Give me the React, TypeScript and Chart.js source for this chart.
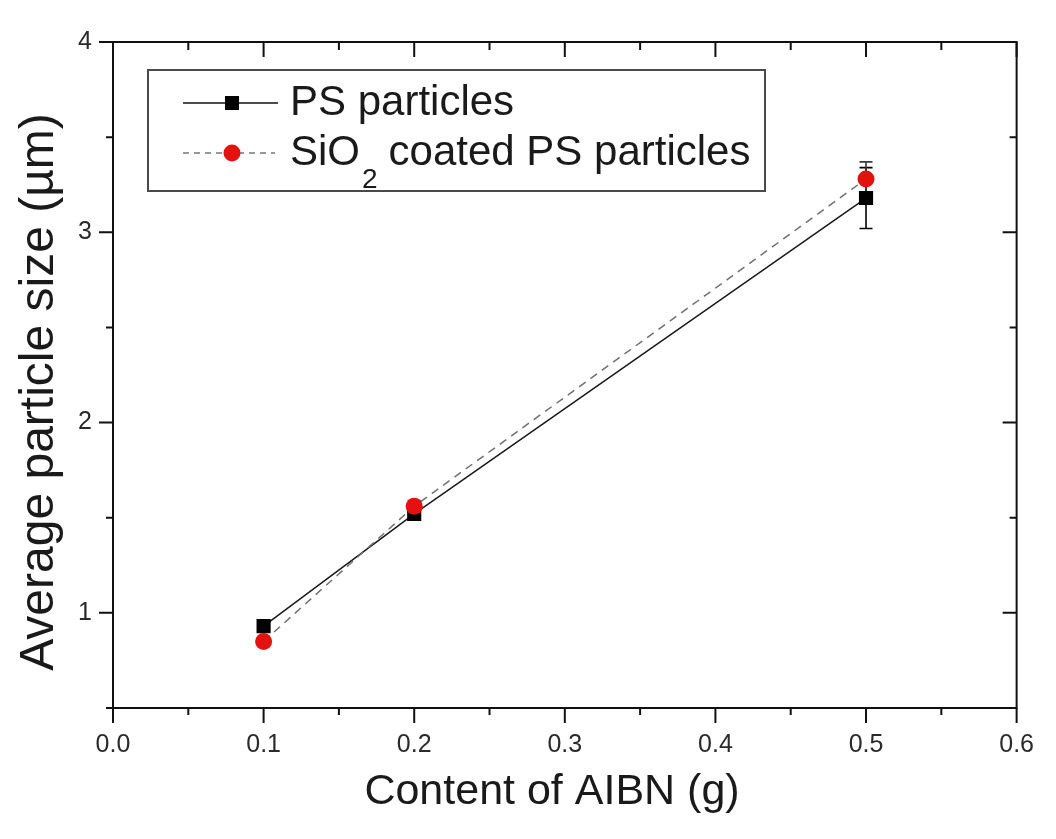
import React, { useEffect, useRef } from 'react';
import { Chart, registerables } from 'chart.js';

Chart.register(...registerables);

// ---- data ----
const contentAIBN = [0.1, 0.2, 0.5];
const psSize = [0.93, 1.52, 3.18];
const psError = [0.02, 0.03, 0.16];
const sio2Size = [0.85, 1.56, 3.28];
const sio2Error = [0.02, 0.03, 0.09];

const xTickValues = [0, 0.1, 0.2, 0.3, 0.4, 0.5, 0.6];
const xTickLabels = ['0.0', '0.1', '0.2', '0.3', '0.4', '0.5', '0.6'];
const xMinorTicks = [0.05, 0.15, 0.25, 0.35, 0.45, 0.55];
const yTickValues = [1, 2, 3, 4];
const yTickLabels = ['1', '2', '3', '4'];
const yMinorTicks = [0.5, 1.5, 2.5, 3.5];

const seriesNames = ['PS particles', 'coated PS particles'];
const xTitle = 'Content of AIBN (g)';
const yTitle = 'Average particle size (\u00b5m)';

const FONT = '"Liberation Sans", Arial, sans-serif';
const TEXT = '#1a1a1a';
const TICKTEXT = '#2a2a2a';
const AXIS = '#111111';
const RED = '#e3120f';

const framePlugin = {
  id: 'framePlugin',
  beforeDatasetsDraw(chart: any) {
    const { ctx, scales } = chart;
    const x = scales.x;
    const y = scales.y;
    const drawErr = (ys: number[], es: number[], color: string) => {
      ctx.save();
      ctx.strokeStyle = color;
      ctx.lineWidth = 1.6;
      contentAIBN.forEach((xv, i) => {
        const px = x.getPixelForValue(xv);
        const t = y.getPixelForValue(ys[i] + es[i]);
        const b = y.getPixelForValue(ys[i] - es[i]);
        ctx.beginPath();
        ctx.moveTo(px, t);
        ctx.lineTo(px, b);
        ctx.moveTo(px - 6.5, t);
        ctx.lineTo(px + 6.5, t);
        ctx.moveTo(px - 6.5, b);
        ctx.lineTo(px + 6.5, b);
        ctx.stroke();
      });
      ctx.restore();
    };
    drawErr(psSize, psError, '#000000');
    drawErr(sio2Size, sio2Error, '#3a3a3a');
  },
  afterDraw(chart: any) {
    const { ctx, chartArea: a, scales } = chart;
    const x = scales.x;
    const y = scales.y;
    ctx.save();
    ctx.strokeStyle = AXIS;
    ctx.lineWidth = 2;
    ctx.strokeRect(a.left, a.top, a.right - a.left, a.bottom - a.top);
    ctx.beginPath();
    xTickValues.forEach((v) => {
      const px = x.getPixelForValue(v);
      ctx.moveTo(px, a.bottom);
      ctx.lineTo(px, a.bottom + 15);
      ctx.moveTo(px, a.top);
      ctx.lineTo(px, a.top + 15);
    });
    xMinorTicks.forEach((v) => {
      const px = x.getPixelForValue(v);
      ctx.moveTo(px, a.bottom);
      ctx.lineTo(px, a.bottom + 7);
      ctx.moveTo(px, a.top);
      ctx.lineTo(px, a.top + 8);
    });
    yTickValues.forEach((v) => {
      const py = y.getPixelForValue(v);
      ctx.moveTo(a.left, py);
      ctx.lineTo(a.left - 14, py);
      ctx.moveTo(a.right, py);
      ctx.lineTo(a.right - 14, py);
    });
    yMinorTicks.forEach((v) => {
      const py = y.getPixelForValue(v);
      ctx.moveTo(a.left, py);
      ctx.lineTo(a.left - 7, py);
      ctx.moveTo(a.right, py);
      ctx.lineTo(a.right - 7, py);
    });
    ctx.stroke();

    // axis titles
    ctx.fillStyle = TEXT;
    ctx.textBaseline = 'middle';
    ctx.textAlign = 'center';
    ctx.font = `43px ${FONT}`;
    ctx.fillText(xTitle, 552, 792);
    ctx.save();
    ctx.translate(40, 392);
    ctx.rotate(-Math.PI / 2);
    ctx.font = `48px ${FONT}`;
    ctx.fillText(yTitle, 0, 0);
    ctx.restore();

    // legend box
    const bx = 148, by = 70, bw = 617, bh = 121;
    ctx.fillStyle = '#ffffff';
    ctx.fillRect(bx, by, bw, bh);
    ctx.strokeStyle = '#4a4a4a';
    ctx.lineWidth = 2;
    ctx.strokeRect(bx, by, bw, bh);

    const r1 = 103, r2 = 153;
    // row 1
    ctx.strokeStyle = '#111';
    ctx.lineWidth = 1.5;
    ctx.setLineDash([]);
    ctx.beginPath();
    ctx.moveTo(183, r1);
    ctx.lineTo(278, r1);
    ctx.stroke();
    ctx.fillStyle = '#000';
    ctx.fillRect(232 - 7, r1 - 7, 14, 14);
    // row 2
    ctx.strokeStyle = '#777';
    ctx.setLineDash([6, 5]);
    ctx.beginPath();
    ctx.moveTo(183, r2);
    ctx.lineTo(275, r2);
    ctx.stroke();
    ctx.setLineDash([]);
    ctx.fillStyle = RED;
    ctx.beginPath();
    ctx.arc(232, r2, 8.5, 0, Math.PI * 2);
    ctx.fill();

    ctx.fillStyle = TEXT;
    ctx.textBaseline = 'middle';
    ctx.textAlign = 'left';
    ctx.font = `42px ${FONT}`;
    ctx.fillText(seriesNames[0], 290, r1);
    ctx.fillText('SiO', 290, r2);
    const w1 = ctx.measureText('SiO').width;
    ctx.font = `28px ${FONT}`;
    ctx.fillText('2', 290 + w1 + 2, r2 + 27);
    const w2 = ctx.measureText('2').width;
    ctx.font = `42px ${FONT}`;
    ctx.fillText(seriesNames[1], 290 + w1 + 2 + w2 + 11, r2);
    ctx.restore();
  },
};

export default function App() {
  const ref = useRef<HTMLCanvasElement>(null);
  useEffect(() => {
    if (!ref.current) return;
    const chart = new Chart(ref.current, {
      type: 'line',
      data: {
        datasets: [
          {
            label: 'PS particles',
            data: contentAIBN.map((xv, i) => ({ x: xv, y: psSize[i] })),
            borderColor: '#1a1a1a',
            borderWidth: 1.5,
            pointStyle: 'rect',
            pointRadius: 10,
            pointBackgroundColor: '#000',
            pointBorderColor: '#000',
            pointBorderWidth: 0,
            order: 1,
          },
          {
            label: 'SiO2 coated PS particles',
            data: contentAIBN.map((xv, i) => ({ x: xv, y: sio2Size[i] })),
            borderColor: '#707070',
            borderWidth: 1.5,
            borderDash: [8, 6],
            pointStyle: 'circle',
            pointRadius: 8.5,
            pointBackgroundColor: RED,
            pointBorderColor: RED,
            pointBorderWidth: 0,
            order: 0,
          },
        ],
      },
      options: {
        animation: false,
        responsive: false,
        layout: { padding: { left: 0, top: 42, right: 34, bottom: 0 } },
        plugins: { legend: { display: false }, tooltip: { enabled: false } },
        scales: {
          x: {
            type: 'linear',
            min: 0,
            max: 0.6,
            afterBuildTicks: (s: any) => {
              s.ticks = xTickValues.map((v) => ({ value: v }));
            },
            afterFit: (s: any) => {
              s.height = 131;
            },
            grid: { display: false, drawTicks: false },
            border: { display: false },
            ticks: {
              padding: 22,
              color: TICKTEXT,
              font: { family: FONT, size: 25 },
              maxRotation: 0,
              autoSkip: false,
              callback: (_v: any, i: number) => xTickLabels[i],
            },
            title: { display: false },
          },
          y: {
            type: 'linear',
            min: 0.5,
            max: 4,
            afterBuildTicks: (s: any) => {
              s.ticks = yTickValues.map((v) => ({ value: v }));
            },
            afterFit: (s: any) => {
              s.width = 113;
            },
            grid: { display: false, drawTicks: false },
            border: { display: false },
            ticks: {
              padding: 21,
              color: TICKTEXT,
              font: { family: FONT, size: 25 },
              autoSkip: false,
              callback: (_v: any, i: number) => yTickLabels[i],
            },
            title: { display: false },
          },
        },
      },
      plugins: [framePlugin],
    } as any);
    return () => chart.destroy();
  }, []);
  return (
    <div style={{ position: 'absolute', left: 0, top: 0, width: 1056, height: 839, background: '#fff' }}>
      <canvas ref={ref} width={1056} height={839} />
    </div>
  );
}
